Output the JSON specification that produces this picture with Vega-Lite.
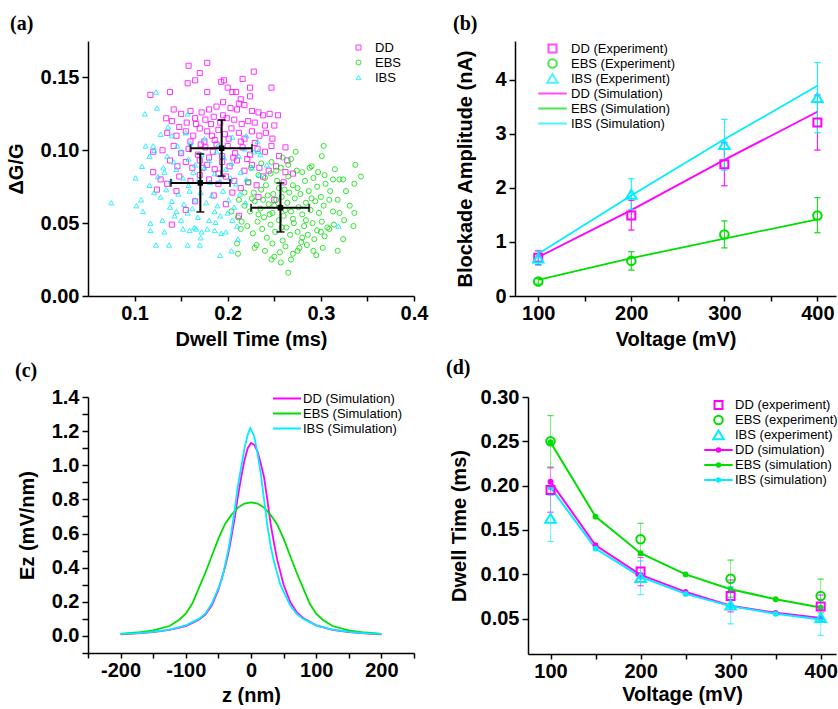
{
"$schema":"https://vega.github.io/schema/vega-lite/v6.json",
"padding":{"left":6,"top":14,"right":0,"bottom":0},
"bounds":"flush",
"spacing":356,
"resolve":{"scale":{"color":"independent","shape":"independent"}},
"config":{
 "view":{"stroke":null},
 "font":"Liberation Sans",
 "axis":{"grid":false,"domainColor":"#000","domainWidth":1.5,"tickColor":"#000","tickWidth":1.5,"labelFont":"Liberation Sans","labelFontSize":20,"labelFontWeight":"bold","labelColor":"#000","labelPadding":3,"labelOverlap":false,"labelFlush":false,"titleFont":"Liberation Sans","titleFontSize":20,"titleFontWeight":"bold","titleColor":"#000"},
 "axisX":{"tickSize":5,"labelPadding":2},
 "axisY":{"tickSize":6,"labelPadding":3},
 "legend":{"labelFont":"Liberation Sans","labelFontSize":13,"labelColor":"#000","padding":0,"rowPadding":1,"orient":"none"},
 "title":{"font":"Liberation Serif","fontSize":20,"fontWeight":"bold","color":"#000","anchor":"start","frame":"group","baseline":"alphabetic"}
},
"datasets":{
 "scatter":[
{"g":"DD","t":0.178,"dg":0.160},{"g":"DD","t":0.158,"dg":0.158},{"g":"DD","t":0.170,"dg":0.153},{"g":"DD","t":0.165,"dg":0.148},{"g":"DD","t":0.157,"dg":0.146},{"g":"DD","t":0.228,"dg":0.154},{"g":"DD","t":0.216,"dg":0.149},{"g":"DD","t":0.196,"dg":0.148},{"g":"DD","t":0.193,"dg":0.147},{"g":"DD","t":0.200,"dg":0.143},{"g":"DD","t":0.205,"dg":0.140},{"g":"DD","t":0.209,"dg":0.140},{"g":"DD","t":0.224,"dg":0.143},{"g":"DD","t":0.247,"dg":0.143},{"g":"DD","t":0.224,"dg":0.137},{"g":"DD","t":0.214,"dg":0.135},{"g":"DD","t":0.117,"dg":0.138},{"g":"DD","t":0.138,"dg":0.140},{"g":"DD","t":0.178,"dg":0.140},{"g":"DD","t":0.212,"dg":0.132},
{"g":"DD","t":0.142,"dg":0.128},{"g":"DD","t":0.150,"dg":0.125},{"g":"DD","t":0.160,"dg":0.127},{"g":"DD","t":0.165,"dg":0.122},{"g":"DD","t":0.172,"dg":0.126},{"g":"DD","t":0.180,"dg":0.128},{"g":"DD","t":0.188,"dg":0.130},{"g":"DD","t":0.195,"dg":0.133},{"g":"DD","t":0.203,"dg":0.129},{"g":"DD","t":0.210,"dg":0.128},{"g":"DD","t":0.218,"dg":0.131},{"g":"DD","t":0.226,"dg":0.127},{"g":"DD","t":0.233,"dg":0.126},{"g":"DD","t":0.238,"dg":0.124},{"g":"DD","t":0.245,"dg":0.125},{"g":"DD","t":0.254,"dg":0.124},{"g":"DD","t":0.134,"dg":0.122},{"g":"DD","t":0.140,"dg":0.120},{"g":"DD","t":0.156,"dg":0.119},{"g":"DD","t":0.148,"dg":0.116},{"g":"DD","t":0.176,"dg":0.121},{"g":"DD","t":0.185,"dg":0.123},{"g":"DD","t":0.192,"dg":0.119},{"g":"DD","t":0.199,"dg":0.122},{"g":"DD","t":0.207,"dg":0.121},{"g":"DD","t":0.222,"dg":0.120},{"g":"DD","t":0.229,"dg":0.119},{"g":"DD","t":0.240,"dg":0.117},{"g":"DD","t":0.250,"dg":0.117},{"g":"DD","t":0.195,"dg":0.124},
{"g":"DD","t":0.135,"dg":0.112},{"g":"DD","t":0.145,"dg":0.110},{"g":"DD","t":0.155,"dg":0.113},{"g":"DD","t":0.163,"dg":0.110},{"g":"DD","t":0.170,"dg":0.115},{"g":"DD","t":0.178,"dg":0.113},{"g":"DD","t":0.183,"dg":0.110},{"g":"DD","t":0.190,"dg":0.114},{"g":"DD","t":0.197,"dg":0.111},{"g":"DD","t":0.204,"dg":0.115},{"g":"DD","t":0.212,"dg":0.112},{"g":"DD","t":0.218,"dg":0.108},{"g":"DD","t":0.226,"dg":0.113},{"g":"DD","t":0.234,"dg":0.110},{"g":"DD","t":0.241,"dg":0.112},{"g":"DD","t":0.248,"dg":0.108},{"g":"DD","t":0.175,"dg":0.106},{"g":"DD","t":0.186,"dg":0.107},{"g":"DD","t":0.160,"dg":0.106},{"g":"DD","t":0.166,"dg":0.118},{"g":"DD","t":0.215,"dg":0.118},
{"g":"DD","t":0.120,"dg":0.099},{"g":"DD","t":0.130,"dg":0.100},{"g":"DD","t":0.142,"dg":0.103},{"g":"DD","t":0.150,"dg":0.098},{"g":"DD","t":0.158,"dg":0.101},{"g":"DD","t":0.168,"dg":0.097},{"g":"DD","t":0.176,"dg":0.102},{"g":"DD","t":0.184,"dg":0.099},{"g":"DD","t":0.200,"dg":0.103},{"g":"DD","t":0.208,"dg":0.098},{"g":"DD","t":0.216,"dg":0.102},{"g":"DD","t":0.224,"dg":0.097},{"g":"DD","t":0.232,"dg":0.101},{"g":"DD","t":0.240,"dg":0.099},{"g":"DD","t":0.247,"dg":0.103},{"g":"DD","t":0.262,"dg":0.102},{"g":"DD","t":0.255,"dg":0.096},{"g":"DD","t":0.171,"dg":0.104},
{"g":"DD","t":0.138,"dg":0.093},{"g":"DD","t":0.146,"dg":0.089},{"g":"DD","t":0.155,"dg":0.092},{"g":"DD","t":0.162,"dg":0.088},{"g":"DD","t":0.170,"dg":0.093},{"g":"DD","t":0.178,"dg":0.090},{"g":"DD","t":0.186,"dg":0.087},{"g":"DD","t":0.194,"dg":0.092},{"g":"DD","t":0.202,"dg":0.089},{"g":"DD","t":0.210,"dg":0.093},{"g":"DD","t":0.218,"dg":0.086},{"g":"DD","t":0.226,"dg":0.090},{"g":"DD","t":0.234,"dg":0.088},{"g":"DD","t":0.244,"dg":0.086},{"g":"DD","t":0.252,"dg":0.089},{"g":"DD","t":0.262,"dg":0.085},{"g":"DD","t":0.270,"dg":0.084},
{"g":"DD","t":0.128,"dg":0.080},{"g":"DD","t":0.135,"dg":0.077},{"g":"DD","t":0.148,"dg":0.082},{"g":"DD","t":0.160,"dg":0.079},{"g":"DD","t":0.170,"dg":0.083},{"g":"DD","t":0.180,"dg":0.080},{"g":"DD","t":0.190,"dg":0.077},{"g":"DD","t":0.198,"dg":0.082},{"g":"DD","t":0.207,"dg":0.079},{"g":"DD","t":0.214,"dg":0.074},{"g":"DD","t":0.222,"dg":0.078},{"g":"DD","t":0.231,"dg":0.076},{"g":"DD","t":0.238,"dg":0.082},{"g":"DD","t":0.124,"dg":0.073},{"g":"DD","t":0.145,"dg":0.072},{"g":"DD","t":0.205,"dg":0.071},{"g":"DD","t":0.190,"dg":0.084},
{"g":"DD","t":0.155,"dg":0.059},{"g":"DD","t":0.140,"dg":0.049},{"g":"DD","t":0.212,"dg":0.055},{"g":"DD","t":0.250,"dg":0.066},{"g":"DD","t":0.233,"dg":0.068},{"g":"DD","t":0.260,"dg":0.078},{"g":"DD","t":0.165,"dg":0.065},{"g":"DD","t":0.185,"dg":0.069},{"g":"DD","t":0.198,"dg":0.063},{"g":"DD","t":0.120,"dg":0.085},{"g":"DD","t":0.264,"dg":0.093},
{"g":"DD","t":0.182,"dg":0.118},{"g":"DD","t":0.188,"dg":0.104},{"g":"DD","t":0.201,"dg":0.108},{"g":"DD","t":0.194,"dg":0.096},{"g":"DD","t":0.206,"dg":0.095},{"g":"DD","t":0.214,"dg":0.106},{"g":"DD","t":0.180,"dg":0.095},{"g":"DD","t":0.173,"dg":0.088},{"g":"DD","t":0.229,"dg":0.105},{"g":"DD","t":0.221,"dg":0.094},
{"g":"EBS","t":0.303,"dg":0.103},{"g":"EBS","t":0.301,"dg":0.096},{"g":"EBS","t":0.337,"dg":0.090},{"g":"EBS","t":0.343,"dg":0.082},{"g":"EBS","t":0.315,"dg":0.087},{"g":"EBS","t":0.290,"dg":0.089},{"g":"EBS","t":0.273,"dg":0.099},{"g":"EBS","t":0.268,"dg":0.094},{"g":"EBS","t":0.324,"dg":0.080},{"g":"EBS","t":0.336,"dg":0.077},{"g":"EBS","t":0.327,"dg":0.072},{"g":"EBS","t":0.331,"dg":0.062},{"g":"EBS","t":0.320,"dg":0.057},{"g":"EBS","t":0.336,"dg":0.057},{"g":"EBS","t":0.325,"dg":0.052},{"g":"EBS","t":0.335,"dg":0.048},{"g":"EBS","t":0.324,"dg":0.039},{"g":"EBS","t":0.318,"dg":0.031},{"g":"EBS","t":0.295,"dg":0.028},{"g":"EBS","t":0.275,"dg":0.031},{"g":"EBS","t":0.265,"dg":0.016},{"g":"EBS","t":0.257,"dg":0.023},{"g":"EBS","t":0.247,"dg":0.025},{"g":"EBS","t":0.229,"dg":0.033},{"g":"EBS","t":0.211,"dg":0.029},{"g":"EBS","t":0.210,"dg":0.036},{"g":"EBS","t":0.214,"dg":0.046},{"g":"EBS","t":0.211,"dg":0.054},{"g":"EBS","t":0.204,"dg":0.058},{"g":"EBS","t":0.302,"dg":0.033},{"g":"EBS","t":0.309,"dg":0.046},{"g":"EBS","t":0.304,"dg":0.041},{"g":"EBS","t":0.293,"dg":0.039},{"g":"EBS","t":0.320,"dg":0.080},{"g":"EBS","t":0.313,"dg":0.080},{"g":"EBS","t":0.297,"dg":0.085},{"g":"EBS","t":0.300,"dg":0.044},
{"g":"EBS","t":0.222,"dg":0.078},{"g":"EBS","t":0.228,"dg":0.071},{"g":"EBS","t":0.233,"dg":0.083},{"g":"EBS","t":0.238,"dg":0.066},{"g":"EBS","t":0.241,"dg":0.076},{"g":"EBS","t":0.246,"dg":0.084},{"g":"EBS","t":0.249,"dg":0.070},{"g":"EBS","t":0.253,"dg":0.079},{"g":"EBS","t":0.257,"dg":0.088},{"g":"EBS","t":0.261,"dg":0.073},{"g":"EBS","t":0.265,"dg":0.082},{"g":"EBS","t":0.270,"dg":0.076},{"g":"EBS","t":0.274,"dg":0.086},{"g":"EBS","t":0.278,"dg":0.070},{"g":"EBS","t":0.283,"dg":0.079},{"g":"EBS","t":0.287,"dg":0.072},{"g":"EBS","t":0.292,"dg":0.081},{"g":"EBS","t":0.296,"dg":0.075},{"g":"EBS","t":0.300,"dg":0.068},{"g":"EBS","t":0.305,"dg":0.077},
{"g":"EBS","t":0.218,"dg":0.062},{"g":"EBS","t":0.224,"dg":0.058},{"g":"EBS","t":0.229,"dg":0.065},{"g":"EBS","t":0.235,"dg":0.060},{"g":"EBS","t":0.239,"dg":0.054},{"g":"EBS","t":0.244,"dg":0.063},{"g":"EBS","t":0.248,"dg":0.057},{"g":"EBS","t":0.252,"dg":0.066},{"g":"EBS","t":0.256,"dg":0.061},{"g":"EBS","t":0.260,"dg":0.055},{"g":"EBS","t":0.264,"dg":0.064},{"g":"EBS","t":0.268,"dg":0.058},{"g":"EBS","t":0.272,"dg":0.067},{"g":"EBS","t":0.276,"dg":0.061},{"g":"EBS","t":0.280,"dg":0.056},{"g":"EBS","t":0.284,"dg":0.064},{"g":"EBS","t":0.289,"dg":0.059},{"g":"EBS","t":0.294,"dg":0.065},{"g":"EBS","t":0.298,"dg":0.057},{"g":"EBS","t":0.303,"dg":0.062},{"g":"EBS","t":0.309,"dg":0.066},{"g":"EBS","t":0.313,"dg":0.058},
{"g":"EBS","t":0.221,"dg":0.048},{"g":"EBS","t":0.227,"dg":0.043},{"g":"EBS","t":0.232,"dg":0.051},{"g":"EBS","t":0.237,"dg":0.046},{"g":"EBS","t":0.242,"dg":0.040},{"g":"EBS","t":0.246,"dg":0.049},{"g":"EBS","t":0.251,"dg":0.044},{"g":"EBS","t":0.255,"dg":0.052},{"g":"EBS","t":0.259,"dg":0.038},{"g":"EBS","t":0.263,"dg":0.047},{"g":"EBS","t":0.267,"dg":0.042},{"g":"EBS","t":0.271,"dg":0.050},{"g":"EBS","t":0.275,"dg":0.044},{"g":"EBS","t":0.279,"dg":0.037},{"g":"EBS","t":0.282,"dg":0.048},{"g":"EBS","t":0.286,"dg":0.042},{"g":"EBS","t":0.291,"dg":0.050},{"g":"EBS","t":0.296,"dg":0.045},{"g":"EBS","t":0.301,"dg":0.051},{"g":"EBS","t":0.307,"dg":0.047},{"g":"EBS","t":0.314,"dg":0.049},
{"g":"EBS","t":0.231,"dg":0.035},{"g":"EBS","t":0.240,"dg":0.031},{"g":"EBS","t":0.248,"dg":0.036},{"g":"EBS","t":0.256,"dg":0.030},{"g":"EBS","t":0.262,"dg":0.034},{"g":"EBS","t":0.270,"dg":0.029},{"g":"EBS","t":0.277,"dg":0.033},{"g":"EBS","t":0.285,"dg":0.035},{"g":"EBS","t":0.292,"dg":0.031},{"g":"EBS","t":0.250,"dg":0.027},{"g":"EBS","t":0.268,"dg":0.025},{"g":"EBS","t":0.280,"dg":0.040},
{"g":"EBS","t":0.250,"dg":0.062},{"g":"EBS","t":0.258,"dg":0.068},{"g":"EBS","t":0.262,"dg":0.059},{"g":"EBS","t":0.266,"dg":0.071},{"g":"EBS","t":0.243,"dg":0.069},{"g":"EBS","t":0.236,"dg":0.073},{"g":"EBS","t":0.255,"dg":0.074},{"g":"EBS","t":0.270,"dg":0.053},{"g":"EBS","t":0.258,"dg":0.047},{"g":"EBS","t":0.245,"dg":0.056},{"g":"EBS","t":0.275,"dg":0.074},{"g":"EBS","t":0.284,"dg":0.052},{"g":"EBS","t":0.290,"dg":0.067},{"g":"EBS","t":0.226,"dg":0.067},{"g":"EBS","t":0.233,"dg":0.056},{"g":"EBS","t":0.240,"dg":0.081},{"g":"EBS","t":0.265,"dg":0.090},{"g":"EBS","t":0.252,"dg":0.086},{"g":"EBS","t":0.280,"dg":0.085},{"g":"EBS","t":0.288,"dg":0.088},{"g":"EBS","t":0.304,"dg":0.083},{"g":"EBS","t":0.310,"dg":0.072},{"g":"EBS","t":0.318,"dg":0.066},{"g":"EBS","t":0.225,"dg":0.088},{"g":"EBS","t":0.236,"dg":0.091},{"g":"EBS","t":0.247,"dg":0.092},{"g":"EBS","t":0.259,"dg":0.095},{"g":"EBS","t":0.218,"dg":0.071},{"g":"EBS","t":0.215,"dg":0.051},{"g":"EBS","t":0.212,"dg":0.066},
{"g":"IBS","t":0.123,"dg":0.140},{"g":"IBS","t":0.124,"dg":0.129},{"g":"IBS","t":0.111,"dg":0.125},{"g":"IBS","t":0.075,"dg":0.064},{"g":"IBS","t":0.101,"dg":0.081},{"g":"IBS","t":0.108,"dg":0.089},{"g":"IBS","t":0.112,"dg":0.103},{"g":"IBS","t":0.120,"dg":0.103},{"g":"IBS","t":0.117,"dg":0.045},{"g":"IBS","t":0.123,"dg":0.035},{"g":"IBS","t":0.137,"dg":0.035},{"g":"IBS","t":0.157,"dg":0.035},{"g":"IBS","t":0.170,"dg":0.035},{"g":"IBS","t":0.192,"dg":0.028},{"g":"IBS","t":0.204,"dg":0.031},{"g":"IBS","t":0.211,"dg":0.039},{"g":"IBS","t":0.319,"dg":0.048},{"g":"IBS","t":0.102,"dg":0.062},{"g":"IBS","t":0.107,"dg":0.066},{"g":"IBS","t":0.109,"dg":0.058},{"g":"IBS","t":0.117,"dg":0.050},{"g":"IBS","t":0.130,"dg":0.052},{"g":"IBS","t":0.132,"dg":0.044},{"g":"IBS","t":0.152,"dg":0.046},{"g":"IBS","t":0.164,"dg":0.047},{"g":"IBS","t":0.172,"dg":0.044},{"g":"IBS","t":0.178,"dg":0.046},{"g":"IBS","t":0.186,"dg":0.045},{"g":"IBS","t":0.171,"dg":0.040},{"g":"IBS","t":0.198,"dg":0.044},{"g":"IBS","t":0.116,"dg":0.096},{"g":"IBS","t":0.121,"dg":0.100},{"g":"IBS","t":0.128,"dg":0.111},{"g":"IBS","t":0.157,"dg":0.125},{"g":"IBS","t":0.136,"dg":0.116},{"g":"IBS","t":0.116,"dg":0.076},{"g":"IBS","t":0.121,"dg":0.071},{"g":"IBS","t":0.125,"dg":0.082},{"g":"IBS","t":0.131,"dg":0.088},{"g":"IBS","t":0.233,"dg":0.0995},{"g":"IBS","t":0.159,"dg":0.045},{"g":"IBS","t":0.166,"dg":0.046},{"g":"IBS","t":0.187,"dg":0.0505},{"g":"IBS","t":0.193,"dg":0.043},
{"g":"IBS","t":0.135,"dg":0.096},{"g":"IBS","t":0.142,"dg":0.092},{"g":"IBS","t":0.150,"dg":0.099},{"g":"IBS","t":0.158,"dg":0.094},{"g":"IBS","t":0.165,"dg":0.090},{"g":"IBS","t":0.172,"dg":0.097},{"g":"IBS","t":0.180,"dg":0.093},{"g":"IBS","t":0.188,"dg":0.099},{"g":"IBS","t":0.196,"dg":0.095},{"g":"IBS","t":0.204,"dg":0.091},{"g":"IBS","t":0.212,"dg":0.096},{"g":"IBS","t":0.146,"dg":0.103},{"g":"IBS","t":0.160,"dg":0.105},{"g":"IBS","t":0.175,"dg":0.108},{"g":"IBS","t":0.190,"dg":0.104},{"g":"IBS","t":0.205,"dg":0.109},{"g":"IBS","t":0.218,"dg":0.101},{"g":"IBS","t":0.228,"dg":0.099},{"g":"IBS","t":0.140,"dg":0.110},{"g":"IBS","t":0.155,"dg":0.112},
{"g":"IBS","t":0.132,"dg":0.085},{"g":"IBS","t":0.139,"dg":0.079},{"g":"IBS","t":0.145,"dg":0.087},{"g":"IBS","t":0.152,"dg":0.081},{"g":"IBS","t":0.158,"dg":0.076},{"g":"IBS","t":0.163,"dg":0.085},{"g":"IBS","t":0.169,"dg":0.080},{"g":"IBS","t":0.175,"dg":0.088},{"g":"IBS","t":0.181,"dg":0.078},{"g":"IBS","t":0.186,"dg":0.084},{"g":"IBS","t":0.192,"dg":0.079},{"g":"IBS","t":0.198,"dg":0.087},{"g":"IBS","t":0.203,"dg":0.081},{"g":"IBS","t":0.209,"dg":0.077},{"g":"IBS","t":0.214,"dg":0.085},{"g":"IBS","t":0.220,"dg":0.080},{"g":"IBS","t":0.226,"dg":0.088},{"g":"IBS","t":0.234,"dg":0.083},{"g":"IBS","t":0.242,"dg":0.090},
{"g":"IBS","t":0.128,"dg":0.068},{"g":"IBS","t":0.134,"dg":0.073},{"g":"IBS","t":0.140,"dg":0.065},{"g":"IBS","t":0.147,"dg":0.070},{"g":"IBS","t":0.153,"dg":0.063},{"g":"IBS","t":0.159,"dg":0.072},{"g":"IBS","t":0.165,"dg":0.066},{"g":"IBS","t":0.171,"dg":0.071},{"g":"IBS","t":0.177,"dg":0.064},{"g":"IBS","t":0.183,"dg":0.069},{"g":"IBS","t":0.189,"dg":0.062},{"g":"IBS","t":0.195,"dg":0.072},{"g":"IBS","t":0.201,"dg":0.066},{"g":"IBS","t":0.207,"dg":0.061},{"g":"IBS","t":0.213,"dg":0.070},{"g":"IBS","t":0.219,"dg":0.064},{"g":"IBS","t":0.138,"dg":0.061},{"g":"IBS","t":0.162,"dg":0.060},{"g":"IBS","t":0.186,"dg":0.058},{"g":"IBS","t":0.200,"dg":0.057},
{"g":"IBS","t":0.143,"dg":0.055},{"g":"IBS","t":0.150,"dg":0.052},{"g":"IBS","t":0.157,"dg":0.057},{"g":"IBS","t":0.168,"dg":0.054},{"g":"IBS","t":0.180,"dg":0.052},{"g":"IBS","t":0.192,"dg":0.055},{"g":"IBS","t":0.205,"dg":0.052},{"g":"IBS","t":0.210,"dg":0.048},{"g":"IBS","t":0.145,"dg":0.058},{"g":"IBS","t":0.220,"dg":0.110},{"g":"IBS","t":0.235,"dg":0.097},{"g":"IBS","t":0.232,"dg":0.106}
 ],
 "cross":[
{"g":"DD","x":0.1935,"y":0.1014,"xlo":0.160,"xhi":0.226,"ylo":0.0822,"yhi":0.1208},
{"g":"IBS","x":0.1706,"y":0.0776,"xlo":0.139,"xhi":0.2025,"ylo":0.0577,"yhi":0.0975},
{"g":"EBS","x":0.2566,"y":0.0605,"xlo":0.225,"xhi":0.2875,"ylo":0.044,"yhi":0.0776}
 ],
 "bexp":[
{"s":"DD (Experiment)","v":100,"a":0.71,"lo":0.58,"hi":0.84},{"s":"DD (Experiment)","v":200,"a":1.49,"lo":1.22,"hi":1.77},{"s":"DD (Experiment)","v":300,"a":2.44,"lo":2.04,"hi":2.84},{"s":"DD (Experiment)","v":400,"a":3.21,"lo":2.70,"hi":3.72},
{"s":"EBS (Experiment)","v":100,"a":0.27,"lo":0.22,"hi":0.32},{"s":"EBS (Experiment)","v":200,"a":0.65,"lo":0.48,"hi":0.82},{"s":"EBS (Experiment)","v":300,"a":1.14,"lo":0.89,"hi":1.39},{"s":"EBS (Experiment)","v":400,"a":1.49,"lo":1.17,"hi":1.82},
{"s":"IBS (Experiment)","v":100,"a":0.70,"lo":0.57,"hi":0.83},{"s":"IBS (Experiment)","v":200,"a":1.88,"lo":1.60,"hi":2.17},{"s":"IBS (Experiment)","v":300,"a":2.80,"lo":2.33,"hi":3.27},{"s":"IBS (Experiment)","v":400,"a":3.67,"lo":3.02,"hi":4.32}
 ],
 "bsim":[
{"s":"DD (Simulation)","v":100,"a":0.72},{"s":"DD (Simulation)","v":200,"a":1.59},{"s":"DD (Simulation)","v":300,"a":2.52},{"s":"DD (Simulation)","v":400,"a":3.41},
{"s":"EBS (Simulation)","v":100,"a":0.30},{"s":"EBS (Simulation)","v":200,"a":0.70},{"s":"EBS (Simulation)","v":300,"a":1.06},{"s":"EBS (Simulation)","v":400,"a":1.42},
{"s":"IBS (Simulation)","v":100,"a":0.78},{"s":"IBS (Simulation)","v":200,"a":1.86},{"s":"IBS (Simulation)","v":300,"a":2.90},{"s":"IBS (Simulation)","v":400,"a":3.89}
 ],
 "csim":[
{"s":"DD (Simulation)","z":-200,"e":0.010},{"s":"DD (Simulation)","z":-175,"e":0.015},{"s":"DD (Simulation)","z":-150,"e":0.022},{"s":"DD (Simulation)","z":-125,"e":0.035},{"s":"DD (Simulation)","z":-100,"e":0.058},{"s":"DD (Simulation)","z":-80,"e":0.095},{"s":"DD (Simulation)","z":-70,"e":0.125},{"s":"DD (Simulation)","z":-60,"e":0.18},{"s":"DD (Simulation)","z":-50,"e":0.27},{"s":"DD (Simulation)","z":-40,"e":0.40},{"s":"DD (Simulation)","z":-35,"e":0.48},{"s":"DD (Simulation)","z":-30,"e":0.58},{"s":"DD (Simulation)","z":-25,"e":0.69},{"s":"DD (Simulation)","z":-20,"e":0.82},{"s":"DD (Simulation)","z":-15,"e":0.93},{"s":"DD (Simulation)","z":-10,"e":1.03},{"s":"DD (Simulation)","z":-5,"e":1.10},{"s":"DD (Simulation)","z":0,"e":1.131},{"s":"DD (Simulation)","z":5,"e":1.12},{"s":"DD (Simulation)","z":10,"e":1.08},{"s":"DD (Simulation)","z":15,"e":1.01},{"s":"DD (Simulation)","z":20,"e":0.93},{"s":"DD (Simulation)","z":25,"e":0.80},{"s":"DD (Simulation)","z":30,"e":0.66},{"s":"DD (Simulation)","z":35,"e":0.55},{"s":"DD (Simulation)","z":40,"e":0.45},{"s":"DD (Simulation)","z":50,"e":0.30},{"s":"DD (Simulation)","z":60,"e":0.20},{"s":"DD (Simulation)","z":70,"e":0.14},{"s":"DD (Simulation)","z":80,"e":0.105},{"s":"DD (Simulation)","z":100,"e":0.062},{"s":"DD (Simulation)","z":125,"e":0.036},{"s":"DD (Simulation)","z":150,"e":0.023},{"s":"DD (Simulation)","z":175,"e":0.015},{"s":"DD (Simulation)","z":200,"e":0.010},
{"s":"EBS (Simulation)","z":-200,"e":0.012},{"s":"EBS (Simulation)","z":-175,"e":0.02},{"s":"EBS (Simulation)","z":-150,"e":0.033},{"s":"EBS (Simulation)","z":-125,"e":0.058},{"s":"EBS (Simulation)","z":-110,"e":0.095},{"s":"EBS (Simulation)","z":-100,"e":0.13},{"s":"EBS (Simulation)","z":-90,"e":0.19},{"s":"EBS (Simulation)","z":-80,"e":0.28},{"s":"EBS (Simulation)","z":-70,"e":0.37},{"s":"EBS (Simulation)","z":-60,"e":0.47},{"s":"EBS (Simulation)","z":-50,"e":0.57},{"s":"EBS (Simulation)","z":-40,"e":0.655},{"s":"EBS (Simulation)","z":-30,"e":0.71},{"s":"EBS (Simulation)","z":-20,"e":0.752},{"s":"EBS (Simulation)","z":-10,"e":0.776},{"s":"EBS (Simulation)","z":0,"e":0.783},{"s":"EBS (Simulation)","z":10,"e":0.776},{"s":"EBS (Simulation)","z":20,"e":0.752},{"s":"EBS (Simulation)","z":30,"e":0.71},{"s":"EBS (Simulation)","z":40,"e":0.655},{"s":"EBS (Simulation)","z":50,"e":0.57},{"s":"EBS (Simulation)","z":60,"e":0.47},{"s":"EBS (Simulation)","z":70,"e":0.37},{"s":"EBS (Simulation)","z":80,"e":0.28},{"s":"EBS (Simulation)","z":90,"e":0.19},{"s":"EBS (Simulation)","z":100,"e":0.13},{"s":"EBS (Simulation)","z":110,"e":0.095},{"s":"EBS (Simulation)","z":125,"e":0.058},{"s":"EBS (Simulation)","z":150,"e":0.033},{"s":"EBS (Simulation)","z":175,"e":0.02},{"s":"EBS (Simulation)","z":200,"e":0.012},
{"s":"IBS (Simulation)","z":-200,"e":0.012},{"s":"IBS (Simulation)","z":-175,"e":0.016},{"s":"IBS (Simulation)","z":-150,"e":0.024},{"s":"IBS (Simulation)","z":-125,"e":0.037},{"s":"IBS (Simulation)","z":-100,"e":0.062},{"s":"IBS (Simulation)","z":-80,"e":0.10},{"s":"IBS (Simulation)","z":-70,"e":0.13},{"s":"IBS (Simulation)","z":-60,"e":0.19},{"s":"IBS (Simulation)","z":-50,"e":0.28},{"s":"IBS (Simulation)","z":-45,"e":0.33},{"s":"IBS (Simulation)","z":-40,"e":0.41},{"s":"IBS (Simulation)","z":-35,"e":0.50},{"s":"IBS (Simulation)","z":-30,"e":0.61},{"s":"IBS (Simulation)","z":-25,"e":0.74},{"s":"IBS (Simulation)","z":-20,"e":0.88},{"s":"IBS (Simulation)","z":-15,"e":0.99},{"s":"IBS (Simulation)","z":-10,"e":1.10},{"s":"IBS (Simulation)","z":-5,"e":1.18},{"s":"IBS (Simulation)","z":-1,"e":1.217},{"s":"IBS (Simulation)","z":5,"e":1.17},{"s":"IBS (Simulation)","z":10,"e":1.07},{"s":"IBS (Simulation)","z":15,"e":0.95},{"s":"IBS (Simulation)","z":20,"e":0.80},{"s":"IBS (Simulation)","z":25,"e":0.65},{"s":"IBS (Simulation)","z":30,"e":0.53},{"s":"IBS (Simulation)","z":35,"e":0.44},{"s":"IBS (Simulation)","z":40,"e":0.37},{"s":"IBS (Simulation)","z":45,"e":0.30},{"s":"IBS (Simulation)","z":50,"e":0.26},{"s":"IBS (Simulation)","z":60,"e":0.18},{"s":"IBS (Simulation)","z":70,"e":0.13},{"s":"IBS (Simulation)","z":80,"e":0.10},{"s":"IBS (Simulation)","z":100,"e":0.062},{"s":"IBS (Simulation)","z":125,"e":0.037},{"s":"IBS (Simulation)","z":150,"e":0.024},{"s":"IBS (Simulation)","z":175,"e":0.016},{"s":"IBS (Simulation)","z":200,"e":0.012}
 ],
 "dexp":[
{"s":"DD (experiment)","v":100,"d":0.195,"lo":0.170,"hi":0.220},{"s":"DD (experiment)","v":200,"d":0.103,"lo":0.087,"hi":0.119},{"s":"DD (experiment)","v":300,"d":0.0755,"lo":0.0575,"hi":0.0935},{"s":"DD (experiment)","v":400,"d":0.0635,"lo":0.0505,"hi":0.0765},
{"s":"EBS (experiment)","v":100,"d":0.250,"lo":0.221,"hi":0.279},{"s":"EBS (experiment)","v":200,"d":0.1395,"lo":0.1215,"hi":0.1575},{"s":"EBS (experiment)","v":300,"d":0.095,"lo":0.074,"hi":0.116},{"s":"EBS (experiment)","v":400,"d":0.0755,"lo":0.0565,"hi":0.0945},
{"s":"IBS (experiment)","v":100,"d":0.163,"lo":0.137,"hi":0.189},{"s":"IBS (experiment)","v":200,"d":0.096,"lo":0.077,"hi":0.115},{"s":"IBS (experiment)","v":300,"d":0.065,"lo":0.044,"hi":0.086},{"s":"IBS (experiment)","v":400,"d":0.051,"lo":0.031,"hi":0.071}
 ],
 "dsim":[
{"s":"DD (simulation)","v":100,"d":0.2045},{"s":"DD (simulation)","v":150,"d":0.1327},{"s":"DD (simulation)","v":200,"d":0.0992},{"s":"DD (simulation)","v":250,"d":0.0801},{"s":"DD (simulation)","v":300,"d":0.0645},{"s":"DD (simulation)","v":350,"d":0.0565},{"s":"DD (simulation)","v":400,"d":0.0505},
{"s":"EBS (simulation)","v":100,"d":0.249},{"s":"EBS (simulation)","v":150,"d":0.165},{"s":"EBS (simulation)","v":200,"d":0.1237},{"s":"EBS (simulation)","v":250,"d":0.0998},{"s":"EBS (simulation)","v":300,"d":0.0831},{"s":"EBS (simulation)","v":350,"d":0.0718},{"s":"EBS (simulation)","v":400,"d":0.0624},
{"s":"IBS (simulation)","v":100,"d":0.198},{"s":"IBS (simulation)","v":150,"d":0.129},{"s":"IBS (simulation)","v":200,"d":0.097},{"s":"IBS (simulation)","v":250,"d":0.0778},{"s":"IBS (simulation)","v":300,"d":0.064},{"s":"IBS (simulation)","v":350,"d":0.0553},{"s":"IBS (simulation)","v":400,"d":0.049}
 ]
},
"vconcat":[
{"hconcat":[
 {"width":326,"height":255,
  "title":{"text":"(a)","dx":-78,"offset":7},
  "layer":[
   {"data":{"name":"scatter"},"mark":{"type":"point","filled":false,"size":26,"strokeWidth":1,"opacity":0.8},
    "encoding":{
     "x":{"field":"t","type":"quantitative","scale":{"domain":[0.05,0.4],"nice":false,"zero":false},
       "axis":{"title":"Dwell Time (ms)","values":[0.1,0.15,0.2,0.25,0.3,0.35,0.4],"labelExpr":"round(datum.value*100) % 10 == 0 ? format(datum.value,'.1f') : ''","titlePadding":6,
         "encode":{"ticks":{"update":{"y2":{"signal":"round(datum.value*100) % 10 != 0 ? 3 : 5"}}}}}},
     "y":{"field":"dg","type":"quantitative","scale":{"domain":[0,0.175],"nice":false},
       "axis":{"title":"ΔG/G","values":[0,0.025,0.05,0.075,0.1,0.125,0.15,0.175],"labelExpr":"round(datum.value*1000) % 50 == 0 ? format(datum.value,'.2f') : ''","titlePadding":14,
         "encode":{"ticks":{"update":{"x2":{"signal":"round(datum.value*1000) % 50 != 0 ? -3 : -6"}}}}}},
     "color":{"field":"g","type":"nominal","scale":{"domain":["DD","EBS","IBS"],"range":["#FF00FF","#00DD00","#00EEFF"]},
       "legend":{"title":null,"legendX":264,"legendY":0,"symbolSize":25,"symbolStrokeWidth":1,"labelOffset":10}},
     "shape":{"field":"g","type":"nominal","scale":{"domain":["DD","EBS","IBS"],"range":["square","circle","triangle-up"]},
       "legend":{"title":null,"legendX":264,"legendY":0,"symbolSize":25,"symbolStrokeWidth":1,"labelOffset":10}}
    }},
   {"data":{"name":"cross"},"mark":{"type":"rule","color":"#000","strokeWidth":2},
    "encoding":{"x":{"field":"xlo","type":"quantitative"},"x2":{"field":"xhi"},"y":{"field":"y","type":"quantitative"}}},
   {"data":{"name":"cross"},"mark":{"type":"rule","color":"#000","strokeWidth":2},
    "encoding":{"x":{"field":"x","type":"quantitative"},"y":{"field":"ylo","type":"quantitative"},"y2":{"field":"yhi"}}},
   {"data":{"name":"cross"},"mark":{"type":"tick","orient":"vertical","size":8,"thickness":2,"color":"#000"},
    "encoding":{"x":{"field":"xlo","type":"quantitative"},"y":{"field":"y","type":"quantitative"}}},
   {"data":{"name":"cross"},"mark":{"type":"tick","orient":"vertical","size":8,"thickness":2,"color":"#000"},
    "encoding":{"x":{"field":"xhi","type":"quantitative"},"y":{"field":"y","type":"quantitative"}}},
   {"data":{"name":"cross"},"mark":{"type":"tick","orient":"horizontal","size":8,"thickness":2,"color":"#000"},
    "encoding":{"x":{"field":"x","type":"quantitative"},"y":{"field":"ylo","type":"quantitative"}}},
   {"data":{"name":"cross"},"mark":{"type":"tick","orient":"horizontal","size":8,"thickness":2,"color":"#000"},
    "encoding":{"x":{"field":"x","type":"quantitative"},"y":{"field":"yhi","type":"quantitative"}}},
   {"data":{"name":"cross"},"mark":{"type":"square","color":"#000","filled":true,"size":30,"opacity":1},
    "encoding":{"x":{"field":"x","type":"quantitative"},"y":{"field":"y","type":"quantitative"}}}
  ]},
 {"width":321,"height":255,
  "title":{"text":"(b)","dx":-62,"offset":7},
  "layer":[
   {"data":{"name":"bsim"},"mark":{"type":"line","strokeWidth":1.8},
    "encoding":{
     "x":{"field":"v","type":"quantitative","scale":{"domain":[75,420],"nice":false,"zero":false},
       "axis":{"title":"Voltage (mV)","values":[100,150,200,250,300,350,400],"labelExpr":"datum.value % 100 == 0 ? format(datum.value,'d') : ''","titlePadding":6,
         "encode":{"ticks":{"update":{"y2":{"signal":"datum.value % 100 != 0 ? 3 : 5"}}}}}},
     "y":{"field":"a","type":"quantitative","scale":{"domain":[0,4.72],"nice":false},
       "axis":{"title":"Blockade Amplitude (nA)","values":[0,0.5,1,1.5,2,2.5,3,3.5,4,4.5],"labelExpr":"datum.value % 1 == 0 ? format(datum.value,'d') : ''","titlePadding":19,
         "encode":{"ticks":{"update":{"x2":{"signal":"datum.value % 1 != 0 ? -3 : -6"}}}}}},
     "color":{"field":"s","type":"nominal","scale":{"domain":["DD (Experiment)","EBS (Experiment)","IBS (Experiment)","DD (Simulation)","EBS (Simulation)","IBS (Simulation)"],"range":["#FF00FF","#00DD00","#00EEFF","#FF00FF","#00DD00","#00EEFF"]},
       "legend":{"title":null,"legendX":22,"legendY":1,"symbolSize":812,"clipHeight":13,"symbolStrokeWidth":2,"symbolFillColor":"transparent","labelOffset":3}}
    }},
   {"data":{"name":"bexp"},"mark":{"type":"rule","strokeWidth":1},
    "encoding":{"x":{"field":"v","type":"quantitative"},"y":{"field":"lo","type":"quantitative"},"y2":{"field":"hi"},"color":{"field":"s","type":"nominal"}}},
   {"data":{"name":"bexp"},"mark":{"type":"tick","orient":"horizontal","size":6,"thickness":0.3,"filled":false,"strokeWidth":1},
    "encoding":{"x":{"field":"v","type":"quantitative"},"y":{"field":"lo","type":"quantitative"},"color":{"field":"s","type":"nominal"}}},
   {"data":{"name":"bexp"},"mark":{"type":"tick","orient":"horizontal","size":6,"thickness":0.3,"filled":false,"strokeWidth":1},
    "encoding":{"x":{"field":"v","type":"quantitative"},"y":{"field":"hi","type":"quantitative"},"color":{"field":"s","type":"nominal"}}},
   {"data":{"name":"bexp"},"mark":{"type":"point","filled":false,"size":812,"strokeWidth":2,"opacity":1},
    "encoding":{"x":{"field":"v","type":"quantitative"},"y":{"field":"a","type":"quantitative"},"color":{"field":"s","type":"nominal"},
     "shape":{"field":"s","type":"nominal","scale":{"domain":["DD (Experiment)","EBS (Experiment)","IBS (Experiment)","DD (Simulation)","EBS (Simulation)","IBS (Simulation)"],"range":["M-0.28,-0.28L0.28,-0.28L0.28,0.28L-0.28,0.28Z","M-0.3,0A0.3,0.3,0,1,1,0.3,0A0.3,0.3,0,1,1,-0.3,0Z","M0,-0.32L0.37,0.3L-0.37,0.3Z","M-1,0L1,0","M-1,0L1,0","M-1,0L1,0"]},
       "legend":{"title":null,"legendX":22,"legendY":1,"symbolSize":812,"clipHeight":13,"symbolStrokeWidth":2,"symbolFillColor":"transparent","labelOffset":3}}}}
  ]}
 ],"spacing":101,"bounds":"flush","resolve":{"scale":{"color":"independent","shape":"independent"}}},
{"hconcat":[
 {"width":326,"height":256,
  "title":{"text":"(c)","dx":-73,"offset":6},
  "layer":[
   {"data":{"name":"csim"},"mark":{"type":"line","strokeWidth":1.8},
    "encoding":{
     "x":{"field":"z","type":"quantitative","scale":{"domain":[-250,250],"nice":false,"zero":false},
       "axis":{"title":"z (nm)","values":[-250,-200,-150,-100,-50,0,50,100,150,200,250],"labelExpr":"datum.value % 100 == 0 ? (datum.value < 0 ? '-' + format(-datum.value,'d') : format(datum.value,'d')) : ''","titlePadding":5,
         "encode":{"ticks":{"update":{"y2":{"signal":"datum.value % 100 != 0 ? 3 : 5"}}}}}},
     "y":{"field":"e","type":"quantitative","scale":{"domain":[-0.1,1.4],"nice":false,"zero":false},
       "axis":{"title":"Ez (mV/nm)","values":[-0.1,0,0.1,0.2,0.3,0.4,0.5,0.6,0.7,0.8,0.9,1.0,1.1,1.2,1.3,1.4],"labelExpr":"round(datum.value*10) % 2 == 0 ? format(datum.value,'.1f') : ''","titlePadding":14,
         "encode":{"ticks":{"update":{"x2":{"signal":"round(datum.value*10) % 2 != 0 ? -3 : -6"}}}}}},
     "color":{"field":"s","type":"nominal","scale":{"domain":["DD (Simulation)","EBS (Simulation)","IBS (Simulation)"],"range":["#FF00FF","#00DD00","#00EEFF"]},
       "legend":{"title":null,"legendX":184,"legendY":-5,"symbolType":"stroke","symbolSize":784,"clipHeight":13,"symbolStrokeWidth":2,"labelOffset":1}}
    }}
  ]},
 {"width":308,"height":257,
  "title":{"text":"(d)","dx":-82,"offset":9},
  "layer":[
   {"data":{"name":"dsim"},"mark":{"type":"line","strokeWidth":2,"point":{"filled":false,"size":8,"strokeWidth":3}},
    "encoding":{
     "x":{"field":"v","type":"quantitative","scale":{"domain":[75,417],"nice":false,"zero":false},
       "axis":{"title":"Voltage (mV)","values":[100,150,200,250,300,350,400],"labelExpr":"datum.value % 100 == 0 ? format(datum.value,'d') : ''","titlePadding":3,
         "encode":{"ticks":{"update":{"y2":{"signal":"datum.value % 100 != 0 ? 3 : 5"}}}}}},
     "y":{"field":"d","type":"quantitative","scale":{"domain":[0.01,0.30],"nice":false,"zero":false},
       "axis":{"title":"Dwell Time (ms)","values":[0.05,0.1,0.15,0.2,0.25,0.3],"format":".2f","titlePadding":11}},
     "color":{"field":"s","type":"nominal","scale":{"domain":["DD (experiment)","EBS (experiment)","IBS (experiment)","DD (simulation)","EBS (simulation)","IBS (simulation)"],"range":["#FF00FF","#00DD00","#00EEFF","#FF00FF","#00DD00","#00EEFF"]},
       "legend":{"title":null,"legendX":175,"legendY":1.5,"symbolSize":812,"clipHeight":13,"symbolStrokeWidth":2,"symbolFillColor":"transparent","labelOffset":1}}
    }},
   {"data":{"name":"dexp"},"mark":{"type":"rule","strokeWidth":1,"opacity":0.5},
    "encoding":{"x":{"field":"v","type":"quantitative"},"y":{"field":"lo","type":"quantitative"},"y2":{"field":"hi"},"color":{"field":"s","type":"nominal"}}},
   {"data":{"name":"dexp"},"mark":{"type":"tick","orient":"horizontal","size":6,"thickness":0.3,"filled":false,"strokeWidth":1,"opacity":0.5},
    "encoding":{"x":{"field":"v","type":"quantitative"},"y":{"field":"lo","type":"quantitative"},"color":{"field":"s","type":"nominal"}}},
   {"data":{"name":"dexp"},"mark":{"type":"tick","orient":"horizontal","size":6,"thickness":0.3,"filled":false,"strokeWidth":1,"opacity":0.5},
    "encoding":{"x":{"field":"v","type":"quantitative"},"y":{"field":"hi","type":"quantitative"},"color":{"field":"s","type":"nominal"}}},
   {"data":{"name":"dexp"},"mark":{"type":"point","filled":false,"size":812,"strokeWidth":2,"opacity":1},
    "encoding":{"x":{"field":"v","type":"quantitative"},"y":{"field":"d","type":"quantitative"},"color":{"field":"s","type":"nominal"},
     "shape":{"field":"s","type":"nominal","scale":{"domain":["DD (experiment)","EBS (experiment)","IBS (experiment)","DD (simulation)","EBS (simulation)","IBS (simulation)"],"range":["M-0.28,-0.28L0.28,-0.28L0.28,0.28L-0.28,0.28Z","M-0.3,0A0.3,0.3,0,1,1,0.3,0A0.3,0.3,0,1,1,-0.3,0Z","M0,-0.32L0.37,0.3L-0.37,0.3Z","M-1,0L1,0M-0.12,0A0.12,0.12,0,1,1,0.12,0A0.12,0.12,0,1,1,-0.12,0Z","M-1,0L1,0M-0.12,0A0.12,0.12,0,1,1,0.12,0A0.12,0.12,0,1,1,-0.12,0Z","M-1,0L1,0M-0.12,0A0.12,0.12,0,1,1,0.12,0A0.12,0.12,0,1,1,-0.12,0Z"]},
       "legend":{"title":null,"legendX":175,"legendY":1.5,"symbolSize":812,"clipHeight":13,"symbolStrokeWidth":2,"symbolFillColor":"transparent","labelOffset":1}}}}
  ]}
 ],"spacing":114,"bounds":"flush","resolve":{"scale":{"color":"independent","shape":"independent"}}}
]
}
